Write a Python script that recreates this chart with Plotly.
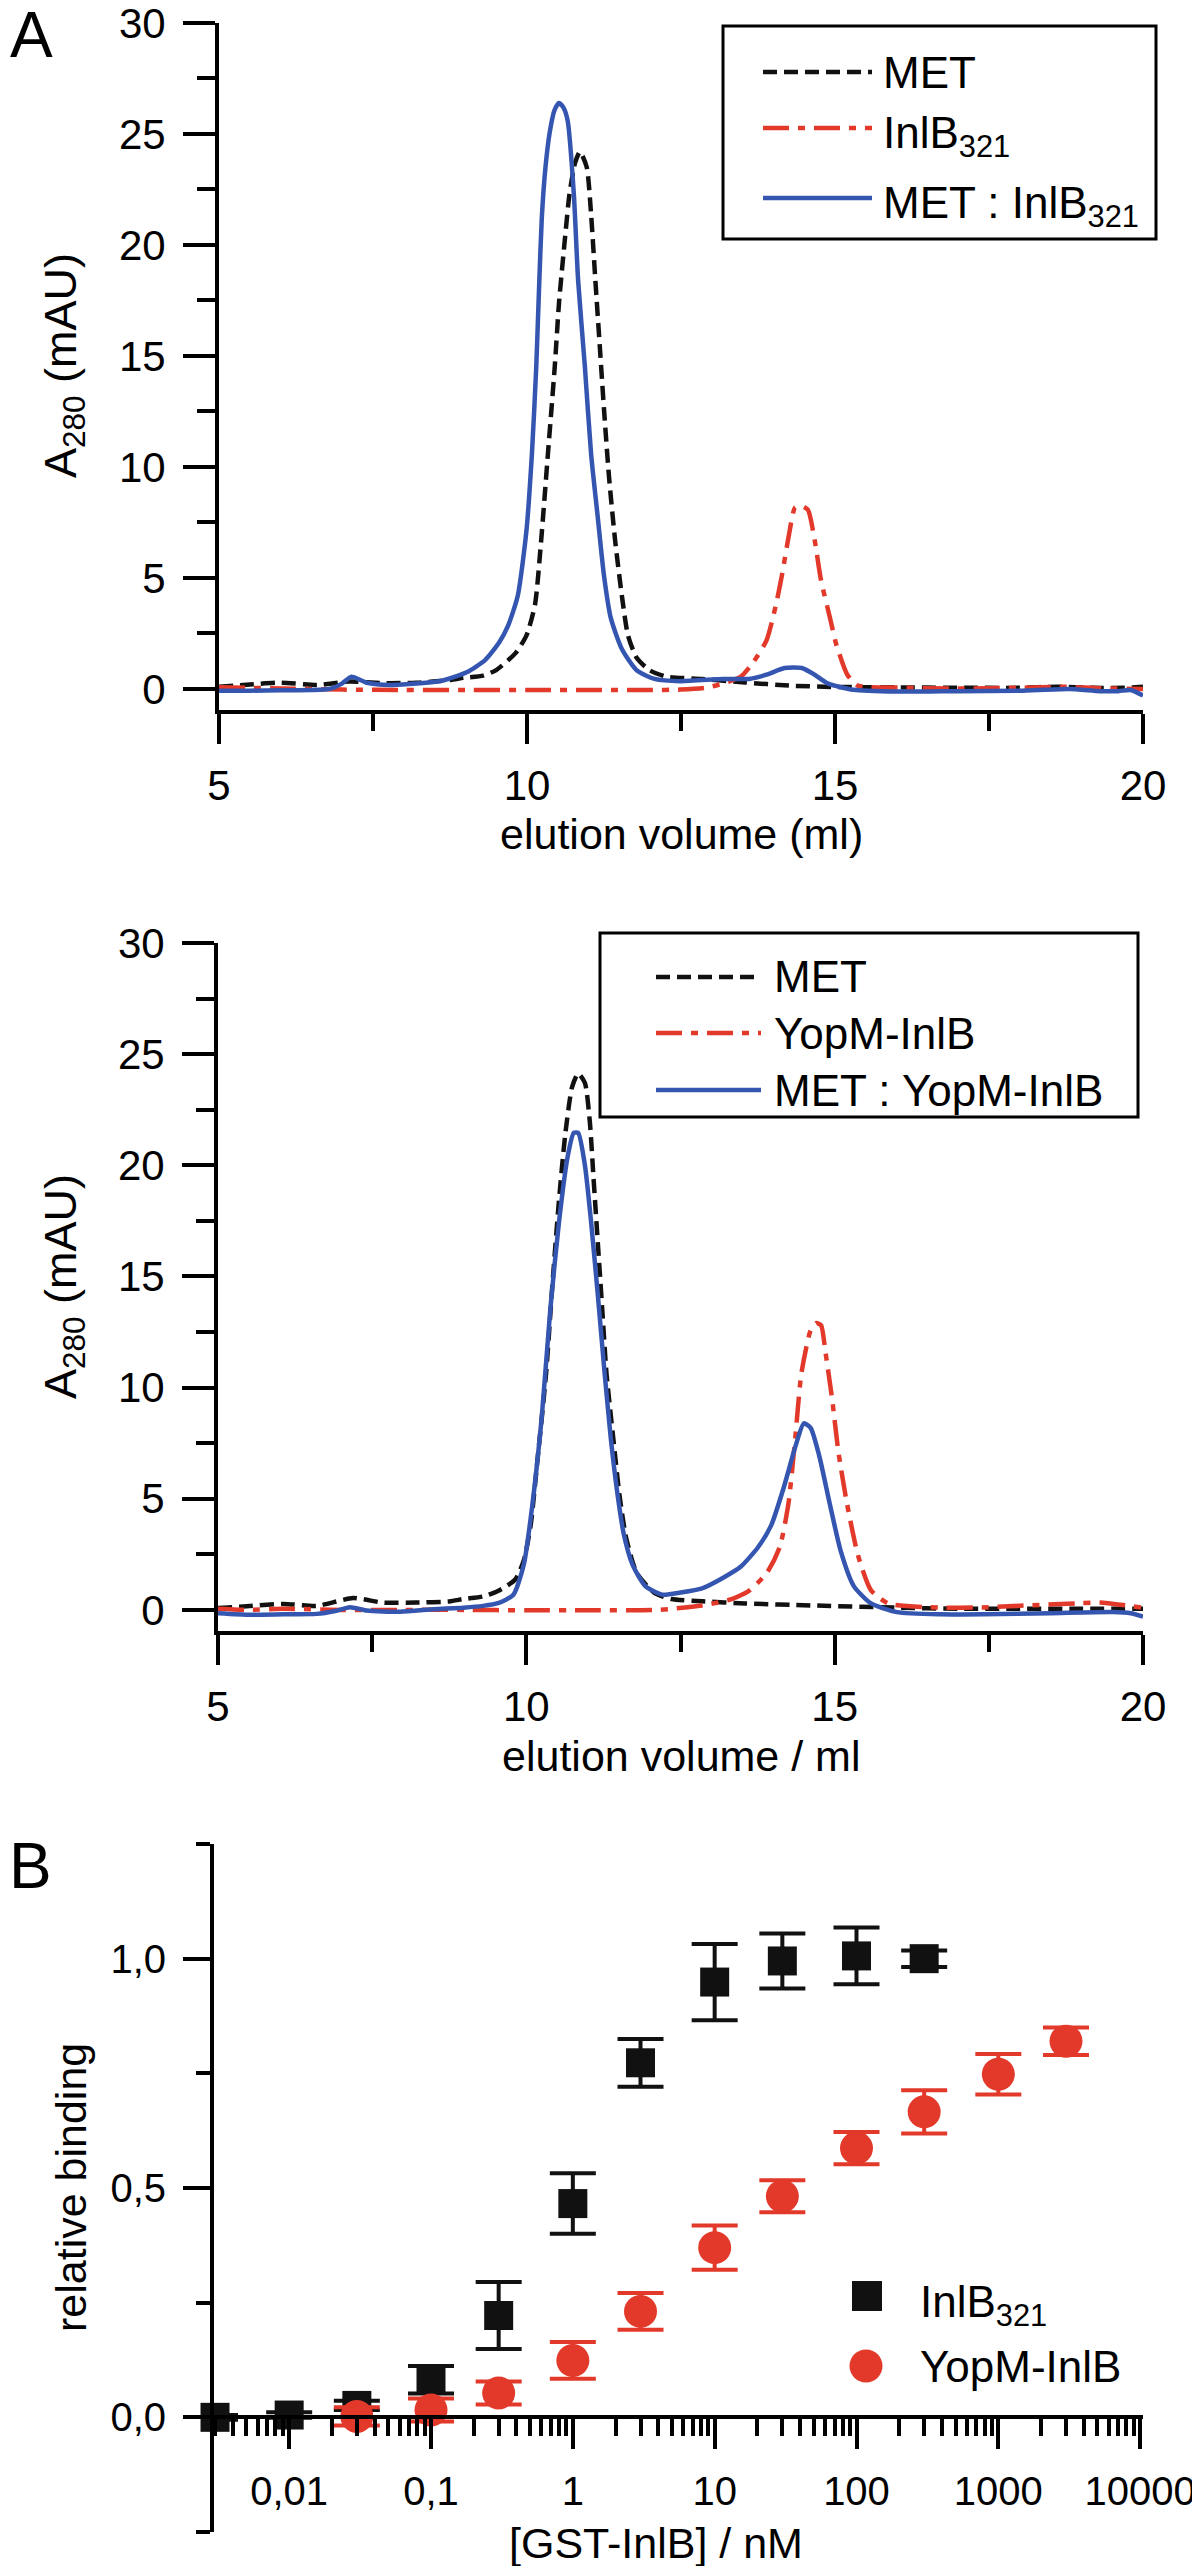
import plotly.graph_objects as go

# page is 1200 x 2566; the html body keeps its default 8px margin, so the
# figure starts at (8, 8) and is sized to end at the page's right/bottom edge
PAGE_W, PAGE_H = 1200, 2566
OFF = 8
W, H = PAGE_W - OFF, PAGE_H - OFF
FONT = "Liberation Sans, Arial, sans-serif"
BLACK = "#111111"
RED = "#E2392A"
BLUE = "#3556B0"

# ---- panel A (top): MET / InlB321, elution volume (ml) vs A280 (mAU)
a_met_x = [5.0, 5.5, 6.0, 6.6, 7.1, 7.7, 8.2, 8.75, 8.97, 9.29, 9.5, 9.81, 9.99, 10.13, 10.23, 10.34,
           10.45, 10.52, 10.62, 10.69, 10.78, 10.86, 10.97, 11.04, 11.11, 11.18, 11.25, 11.33, 11.43,
           11.54, 11.64, 11.78, 11.99, 12.27, 12.84, 13.54, 14.25, 14.95, 16.0, 17.0, 18.0, 18.6,
           19.2, 19.7, 20.0]
a_met_y = [0.1, 0.2, 0.28, 0.18, 0.33, 0.26, 0.28, 0.4, 0.5, 0.6, 0.85, 1.6, 2.4, 3.8, 6.7, 10.6,
           14.5, 17.4, 20.4, 22.3, 23.7, 24.2, 23.5, 21.4, 18.4, 15.5, 12.6, 9.6, 6.7,
           4.2, 2.4, 1.4, 0.84, 0.55, 0.45, 0.29, 0.15, 0.09, 0.07, 0.05, 0.05, 0.1,
           0.05, 0.05, 0.1]

a_inlb_x = [5.0, 5.5, 6.0, 7.0, 8.0, 9.0, 10.0, 11.0, 12.0, 12.49, 12.9, 13.19, 13.47, 13.68, 13.89,
            14.04, 14.14, 14.25, 14.35, 14.45, 14.56, 14.67, 14.77, 14.92, 15.02, 15.2, 15.37, 16.0,
            17.0, 18.0, 18.7, 19.3, 20.0]
a_inlb_y = [0.08, 0.05, 0.02, -0.03, -0.05, -0.05, -0.05, -0.05, -0.05, -0.03, 0.05, 0.25, 0.55, 1.23, 2.2,
            3.77, 5.14, 6.9, 8.16, 8.25, 8.07, 6.7, 4.94, 3.18, 2.01, 0.64, 0.15, 0.06,
            0.02, 0.05, 0.1, 0.03, 0.0]

a_cplx_x = [5.0, 5.5, 6.0, 6.5, 6.8, 7.0, 7.15, 7.4, 7.78, 8.21, 8.64, 9.02, 9.32, 9.55, 9.7, 9.85,
            9.99, 10.08, 10.15, 10.2, 10.24, 10.3, 10.37, 10.45, 10.52, 10.59, 10.66, 10.76, 10.83,
            10.94, 11.04, 11.15, 11.25, 11.36, 11.54, 11.78, 12.07, 12.49, 13.19, 13.61, 13.89, 14.18,
            14.46, 14.67, 14.88, 15.3, 16.0, 17.0, 18.0, 18.8, 19.3, 19.6, 19.8, 20.0]
a_cplx_y = [-0.08, -0.08, -0.06, -0.05, 0.0, 0.25, 0.55, 0.28, 0.18, 0.24, 0.38, 0.75, 1.3, 2.1, 2.9, 4.2,
            7.1, 10.6, 14.5, 18.4, 21.2, 23.5, 25.1, 26.1, 26.4, 26.2, 25.6, 22.3, 18.4,
            14.5, 10.6, 7.7, 5.1, 3.2, 1.8, 0.84, 0.45, 0.35, 0.45, 0.45, 0.64, 0.94,
            0.94, 0.64, 0.25, -0.04, -0.12, -0.1, -0.08, 0.0, -0.1, -0.1, -0.05, -0.3]

# ---- panel A (bottom): MET / YopM-InlB
b_met_x = [5.0, 5.41, 6.06, 6.6, 7.19, 7.67, 8.21, 8.75, 8.98, 9.29, 9.54, 9.82, 9.96, 10.07, 10.18,
           10.32, 10.42, 10.53, 10.63, 10.74, 10.84, 10.95, 11.03, 11.09, 11.16, 11.23, 11.3, 11.41,
           11.51, 11.62, 11.79, 12.07, 12.35, 12.85, 13.55, 14.61, 16.0, 17.0, 18.0, 19.0, 20.0]
b_met_y = [0.08, 0.15, 0.27, 0.18, 0.53, 0.33, 0.33, 0.38, 0.49, 0.6, 0.85, 1.37, 2.24, 3.8, 6.73,
           10.63, 14.53, 18.44, 21.36, 23.5, 24.13, 23.7, 21.95, 19.41, 16.48, 13.56, 10.63, 7.71,
           5.17, 3.22, 1.66, 0.78, 0.49, 0.39, 0.29, 0.2, 0.1, 0.05, 0.05, 0.05, 0.05]

b_yopm_x = [5.0, 5.5, 6.06, 7.0, 8.0, 9.0, 10.0, 11.0, 12.14, 12.85, 13.34, 13.62, 13.9, 14.11, 14.25,
            14.36, 14.46, 14.61, 14.7, 14.78, 14.85, 14.96, 15.06, 15.2, 15.38, 15.59, 15.87, 16.72,
            17.5, 18.12, 19.0, 19.3, 20.0]
b_yopm_y = [0.05, 0.0, 0.05, 0.0, 0.0, 0.0, -0.02, -0.02, 0.0, 0.2, 0.49, 0.88, 1.66, 2.83, 4.78,
            7.71, 10.63, 12.58, 12.9, 12.8, 11.61, 9.46, 7.12, 4.78, 2.44, 0.88, 0.29, 0.1,
            0.12, 0.2, 0.3, 0.33, 0.1]

b_cplx_x = [5.0, 5.52, 6.06, 6.6, 6.9, 7.14, 7.41, 7.95, 8.5, 8.98, 9.3, 9.54, 9.79, 9.96, 10.1, 10.25,
            10.39, 10.53, 10.67, 10.77, 10.84, 10.95, 11.05, 11.16, 11.27, 11.37, 11.48, 11.58, 11.72,
            11.93, 12.21, 12.5, 12.85, 13.2, 13.48, 13.76, 13.97, 14.18, 14.36, 14.5, 14.61, 14.75,
            14.92, 15.1, 15.31, 15.59, 16.01, 16.72, 17.42, 18.5, 19.5, 19.8, 20.0]
b_cplx_y = [-0.15, -0.22, -0.2, -0.18, -0.05, 0.12, -0.03, -0.08, 0.03, 0.1, 0.18, 0.3, 0.68, 2.05, 4.78, 8.68,
            13.56, 17.46, 20.39, 21.46, 21.46, 20.0, 17.46, 14.14, 10.63, 7.71, 5.17, 3.41, 2.05,
            1.07, 0.68, 0.78, 0.97, 1.46, 1.95, 2.83, 3.8, 5.56, 7.32, 8.39, 8.19, 6.93,
            4.78, 2.63, 1.07, 0.29, -0.1, -0.2, -0.2, -0.15, -0.1, -0.15, -0.3]

# ---- panel B: relative binding vs [GST-InlB] / nM
inlb_conc = [0.003, 0.01, 0.03, 0.1, 0.3, 1, 3, 10, 30, 100, 300]
inlb_bind = [0.0, 0.005, 0.026, 0.082, 0.222, 0.466, 0.773, 0.949, 0.995, 1.006, 1.0]
inlb_err = [0.005, 0.006, 0.01, 0.03, 0.073, 0.066, 0.052, 0.083, 0.06, 0.062, 0.018]

yopm_conc = [0.03, 0.1, 0.3, 1, 3, 10, 30, 100, 300, 1000, 3000]
yopm_bind = [0.002, 0.016, 0.053, 0.124, 0.231, 0.37, 0.482, 0.587, 0.666, 0.748, 0.82]
yopm_err = [0.02, 0.025, 0.025, 0.04, 0.04, 0.048, 0.035, 0.035, 0.047, 0.044, 0.03]

b_tickvals = [0.01, 0.1, 1, 10, 100, 1000, 10000]
b_ticktext = ["0,01", "0,1", "1", "10", "100", "1000", "10000"]
b_ytickvals = [0.0, 0.5, 1.0]
b_yticktext = ["0,0", "0,5", "1,0"]


# page pixel -> paper fraction
def fx(x):
    return (x - OFF) / W


def fy(y):
    return 1 - (y - OFF) / H


DASH_MET = "14px,7px"
DASH_RED = "26px,9px,7px,9px"

fig = go.Figure()

for xs, ys, col, dash, ax in [
    (a_met_x, a_met_y, BLACK, DASH_MET, "1"),
    (a_inlb_x, a_inlb_y, RED, DASH_RED, "1"),
    (a_cplx_x, a_cplx_y, BLUE, "solid", "1"),
    (b_met_x, b_met_y, BLACK, DASH_MET, "2"),
    (b_yopm_x, b_yopm_y, RED, DASH_RED, "2"),
    (b_cplx_x, b_cplx_y, BLUE, "solid", "2"),
]:
    fig.add_trace(go.Scatter(
        x=xs, y=ys, mode="lines",
        line=dict(color=col, width=4.5, dash=dash, shape="spline", smoothing=0.6),
        xaxis="x" if ax == "1" else "x2", yaxis="y" if ax == "1" else "y2",
        showlegend=False, hoverinfo="skip"))

fig.add_trace(go.Scatter(
    x=inlb_conc, y=inlb_bind, mode="markers", xaxis="x3", yaxis="y3",
    marker=dict(symbol="square", size=29, color=BLACK),
    error_y=dict(type="data", array=inlb_err, visible=True, color=BLACK, thickness=4, width=23),
    cliponaxis=False, showlegend=False))
fig.add_trace(go.Scatter(
    x=yopm_conc, y=yopm_bind, mode="markers", xaxis="x3", yaxis="y3",
    marker=dict(symbol="circle", size=33, color=RED),
    error_y=dict(type="data", array=yopm_err, visible=True, color=RED, thickness=4, width=23),
    cliponaxis=False, showlegend=False))

tickfont = dict(family=FONT, size=42, color="black")
base = dict(showline=True, linewidth=4, linecolor="black", ticks="outside", tickwidth=4,
            tickcolor="black", showgrid=False, zeroline=False, tickfont=tickfont,
            automargin=False, ticklabeloverflow="allow")


def minor(dt, ln):
    return dict(dtick=dt, ticklen=ln, tickwidth=4, tickcolor="black", ticks="outside", showgrid=False)


minor_log = [d * 10.0 ** e for e in range(-3, 4) for d in range(2, 10)]

fig.update_layout(
    width=W, height=H, margin=dict(l=0, r=0, t=0, b=0, autoexpand=False),
    paper_bgcolor="white", plot_bgcolor="white", showlegend=False,
    font=dict(family=FONT, color="black"),
    xaxis=dict(base, domain=[fx(219), fx(1143)], range=[5, 20], tick0=5, dtick=5, ticklen=30,
               minor=minor(2.5, 17), anchor="y", ticklabelstandoff=6),
    yaxis=dict(base, domain=[fy(710), fy(23)], range=[-0.95, 30], tick0=0, dtick=5, ticklen=32,
               minor=minor(2.5, 18), anchor="x", ticklabelstandoff=9),
    xaxis2=dict(base, domain=[fx(218), fx(1143)], range=[5, 20], tick0=5, dtick=5, ticklen=30,
                minor=minor(2.5, 17), anchor="y2", ticklabelstandoff=6),
    yaxis2=dict(base, domain=[fy(1631), fy(943)], range=[-0.95, 30], tick0=0, dtick=5, ticklen=32,
                minor=minor(2.5, 18), anchor="x2", ticklabelstandoff=9),
    xaxis3=dict(base, type="log", domain=[fx(214), fx(1143)], range=[-2.53, 4.02],
                tickmode="array", tickvals=b_tickvals, ticktext=b_ticktext, ticklen=30,
                tickfont=dict(family=FONT, size=40, color="black"),
                minor=dict(tickmode="array", tickvals=minor_log, ticklen=17, tickwidth=4,
                           tickcolor="black", ticks="outside", showgrid=False),
                anchor="free", position=fy(2417), ticklabelstandoff=8),
    yaxis3=dict(base, domain=[fy(2532), fy(1844)], range=[-0.25, 1.25],
                tickmode="array", tickvals=b_ytickvals, ticktext=b_yticktext, ticklen=27,
                tickfont=dict(family=FONT, size=40, color="black"),
                minor=minor(0.25, 14), anchor="x3", ticklabelstandoff=9),
)

ann = []


def text(x, y, s, size=43, xanchor="center", angle=0):
    ann.append(dict(x=fx(x), y=fy(y), xref="paper", yref="paper", text=s, showarrow=False,
                    xanchor=xanchor, yanchor="middle", textangle=angle,
                    font=dict(family=FONT, size=size, color="black")))


text(31, 35, "A", size=64)
text(30, 1866, "B", size=64)
text(63, 366, "A<sub>280</sub> (mAU)", size=45, angle=-90)
text(681, 834, "elution volume (ml)", size=43)
text(63, 1287, "A<sub>280</sub> (mAU)", size=45, angle=-90)
text(681, 1756, "elution volume / ml", size=43)
text(71, 2188, "relative binding", size=43, angle=-90)
text(656, 2543, "[GST-InlB] / nM", size=43)

shapes = []


def legend_box(x0, y0, x1, y1):
    shapes.append(dict(type="rect", xref="paper", yref="paper", x0=fx(x0), x1=fx(x1),
                       y0=fy(y0), y1=fy(y1), line=dict(color="black", width=3)))


def legend_line(x0, x1, y, col, dash):
    shapes.append(dict(type="line", xref="paper", yref="paper", x0=fx(x0), x1=fx(x1),
                       y0=fy(y), y1=fy(y), line=dict(color=col, width=4.5, dash=dash)))


legend_box(723, 26, 1156, 239)
for yy, col, dash, lab in [(72, BLACK, DASH_MET, "MET"),
                           (128, RED, DASH_RED, "InlB<sub>321</sub>"),
                           (198, BLUE, "solid", "MET : InlB<sub>321</sub>")]:
    legend_line(763, 872, yy, col, dash)
    text(881, yy + (8 if "sub" in lab else 0), lab, size=44, xanchor="left")

legend_box(600, 933, 1138, 1117)
for yy, col, dash, lab in [(977, BLACK, DASH_MET, "MET"),
                           (1033, RED, DASH_RED, "YopM-InlB"),
                           (1090, BLUE, "solid", "MET : YopM-InlB")]:
    legend_line(656, 761, yy, col, dash)
    text(772, yy, lab, size=44, xanchor="left")

shapes.append(dict(type="rect", xref="paper", yref="paper", xsizemode="pixel", ysizemode="pixel",
                   xanchor=fx(867), yanchor=fy(2296), x0=-15, x1=15, y0=-15, y1=15,
                   fillcolor=BLACK, line=dict(width=0)))
shapes.append(dict(type="circle", xref="paper", yref="paper", xsizemode="pixel", ysizemode="pixel",
                   xanchor=fx(866), yanchor=fy(2366), x0=-16.5, x1=16.5, y0=-16.5, y1=16.5,
                   fillcolor=RED, line=dict(width=0)))
text(918, 2305, "InlB<sub>321</sub>", size=44, xanchor="left")
text(918, 2366, "YopM-InlB", size=44, xanchor="left")

fig.update_layout(annotations=ann, shapes=shapes)
fig.write_html("out.html")
